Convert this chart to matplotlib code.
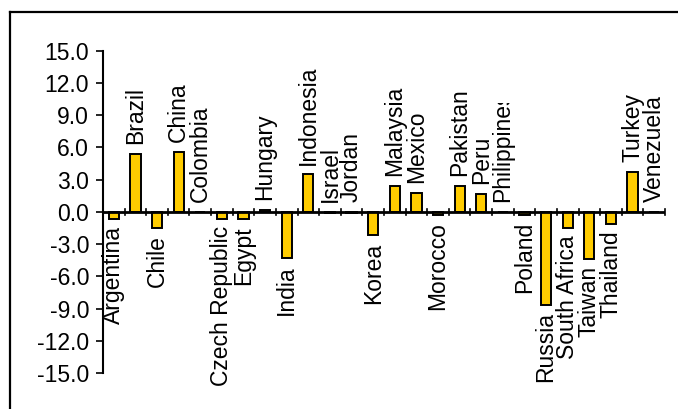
import numpy as np
import matplotlib.pyplot as plt
from matplotlib.lines import Line2D
from matplotlib.transforms import Bbox

plt.rcParams['font.family'] = ['Liberation Sans', 'DejaVu Sans']

countries = ['Argentina', 'Brazil', 'Chile', 'China', 'Colombia', 'Czech Republic',
             'Egypt', 'Hungary', 'India', 'Indonesia', 'Israel', 'Jordan', 'Korea',
             'Malaysia', 'Mexico', 'Morocco', 'Pakistan', 'Peru', 'Philippines',
             'Poland', 'Russia', 'South Africa', 'Taiwan', 'Thailand', 'Turkey',
             'Venezuela']
values = [-0.7, 5.4, -1.5, 5.6, 0.0, -0.7,
          -0.7, 0.2, -4.3, 3.5, -0.1, -0.1, -2.2,
          2.4, 1.8, -0.3, 2.4, 1.7, 0.0,
          -0.3, -8.7, -1.5, -4.4, -1.1, 3.7,
          0.0]
yticks = [-15, -12, -9, -6, -3, 0, 3, 6, 9, 12, 15]

fig = plt.figure(figsize=(6.78, 4.09), dpi=100)
ax = fig.add_axes([103 / 678, 1 - 373 / 409, 562 / 678, (373 - 50.7) / 409])

x = np.arange(len(countries))
ax.bar(x, values, width=0.47, color='#FFCC00', edgecolor='black', linewidth=1.4, zorder=3)

ax.set_xlim(-0.5, len(countries) - 0.5)
ax.set_ylim(-15, 15)
ax.set_yticks(yticks)
ax.set_yticklabels(['%.1f' % v for v in yticks], fontsize=16.5)
ax.tick_params(axis='y', direction='out', length=5, width=1.2, pad=5)

for s in ['top', 'right', 'bottom']:
    ax.spines[s].set_visible(False)
ax.spines['left'].set_linewidth(1.5)
ax.set_xticks([])

# category axis through zero with crossing ticks at boundaries
ax.axhline(0, color='black', linewidth=2, zorder=4)
for b in np.arange(-0.5, len(countries), 1.0):
    ax.plot([b, b], [-0.3, 0.3], color='black', linewidth=1.2, zorder=4, clip_on=False)

for xi, name, v in zip(x, countries, values):
    if v > -0.2:
        y0, dy, va = max(v, 0), 7, 'bottom'
    else:
        y0, dy, va = v, -5, 'top'
    t = ax.annotate(name, (xi, y0), xytext=(0, dy), textcoords='offset points',
                    rotation=90, ha='center', va=va, fontsize=16.5, zorder=5)
    if name == 'Philippines':
        t.set_clip_box(Bbox.from_extents(0, 0, 678, 409 - 103))
        t.set_clip_on(True)

# outer frame (only left and top edges visible)
fig.add_artist(Line2D([10 / 678, 10 / 678], [0, 1 - 12 / 409], color='black', linewidth=1.6))
fig.add_artist(Line2D([10 / 678, 1], [1 - 12 / 409, 1 - 12 / 409], color='black', linewidth=1.6))

fig.savefig('out.png', dpi=100)
